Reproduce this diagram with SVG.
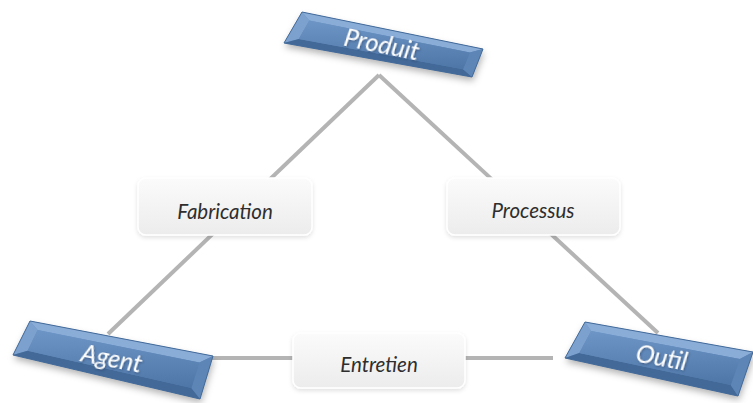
<svg xmlns="http://www.w3.org/2000/svg" width="753" height="403" viewBox="0 0 753 403">
  <defs>
    <linearGradient id="faceGrad" x1="0" y1="0" x2="0" y2="1">
      <stop offset="0" stop-color="#6d95c5"/>
      <stop offset="1" stop-color="#4e76a7"/>
    </linearGradient>
    <linearGradient id="labelGrad" x1="0" y1="0" x2="0" y2="1">
      <stop offset="0" stop-color="#fbfbfb"/>
      <stop offset="1" stop-color="#ececec"/>
    </linearGradient>
    <filter id="boxShadow" x="-20%" y="-40%" width="140%" height="190%">
      <feDropShadow dx="1" dy="4" stdDeviation="3.5" flood-color="#000" flood-opacity="0.3"/>
    </filter>
    <filter id="labelShadow" x="-10%" y="-20%" width="120%" height="150%">
      <feDropShadow dx="0" dy="2" stdDeviation="2" flood-color="#000" flood-opacity="0.12"/>
    </filter>
    <filter id="textShadow" x="-10%" y="-30%" width="120%" height="160%">
      <feDropShadow dx="1" dy="1" stdDeviation="1.2" flood-color="#1d3352" flood-opacity="0.5"/>
    </filter>
  </defs>
  <style>
    .link { stroke: #b4b4b4; stroke-width: 4; fill: none; }
    .face { fill: url(#faceGrad); }
    .bevTop { fill: #8aadd8; }
    .bevLeft { fill: #7ca1ce; }
    .bevBottom { fill: #426997; }
    .bevRight { fill: #5d86b7; }
    .edge { fill: none; stroke: #446b9a; stroke-width: 1; stroke-linejoin: round; }
    .title { font-family: "Lato", "Open Sans", sans-serif; font-style: italic; font-size: 25px; fill: #ffffff; text-anchor: middle; }
    .label { fill: url(#labelGrad); stroke: #ffffff; stroke-width: 1.5; }
    .labelText { font-family: "Lato", "Open Sans", sans-serif; font-style: italic; font-size: 20.5px; fill: #2e2e2e; text-anchor: middle; }
  </style>

  <!-- triangle of relations -->
  <g id="connectors">
    <line class="link" x1="379" y1="75" x2="108" y2="334"/>
    <line class="link" x1="379" y1="75" x2="658" y2="333"/>
    <line class="link" x1="212" y1="358" x2="553" y2="358"/>
  </g>

  <!-- bevelled node: Produit -->
  <g id="produit">
    <g filter="url(#boxShadow)">
      <polygon class="face" points="302,12 483,49 472,77 284,43"/>
    </g>
    <polygon class="bevTop" points="302,12 483,49 469.9,52.4 309.3,20.4"/>
    <polygon class="bevLeft" points="302,12 309.3,20.4 298.8,38.9 284,43"/>
    <polygon class="bevBottom" points="284,43 298.8,38.9 463,69.3 472,77"/>
    <polygon class="bevRight" points="483,49 472,77 463,69.3 469.9,52.4"/>
    <polygon class="face" points="309.3,20.4 469.9,52.4 463,69.3 298.8,38.9"/>
    <polygon class="edge" points="302,12 483,49 472,77 284,43"/>
    <text class="title" filter="url(#textShadow)" transform="translate(380,53) rotate(11.5)">Produit</text>
  </g>

  <!-- bevelled node: Agent -->
  <g id="agent">
    <g filter="url(#boxShadow)">
      <polygon class="face" points="30,321 213,356 200,399 13,355"/>
    </g>
    <polygon class="bevTop" points="30,321 213,356 199.4,362.4 37.6,330"/>
    <polygon class="bevLeft" points="30,321 37.6,330 27.6,350.7 13,355"/>
    <polygon class="bevBottom" points="13,355 27.6,350.7 191.4,387.9 200,399"/>
    <polygon class="bevRight" points="213,356 200,399 191.4,387.9 199.4,362.4"/>
    <polygon class="face" points="37.6,330 199.4,362.4 191.4,387.9 27.6,350.7"/>
    <polygon class="edge" points="30,321 213,356 200,399 13,355"/>
    <text class="title" filter="url(#textShadow)" transform="translate(110,367) rotate(11)">Agent</text>
  </g>

  <!-- bevelled node: Outil -->
  <g id="outil">
    <g filter="url(#boxShadow)">
      <polygon class="face" points="585,322 753,352 738,396 565,358"/>
    </g>
    <polygon class="bevTop" points="585,322 753,352 739.9,358.9 591.1,331.1"/>
    <polygon class="bevLeft" points="585,322 591.1,331.1 579.3,353 565,358"/>
    <polygon class="bevBottom" points="565,358 579.3,353 730.7,385 738,396"/>
    <polygon class="bevRight" points="753,352 738,396 730.7,385 739.9,358.9"/>
    <polygon class="face" points="591.1,331.1 739.9,358.9 730.7,385 579.3,353"/>
    <polygon class="edge" points="585,322 753,352 738,396 565,358"/>
    <text class="title" filter="url(#textShadow)" transform="translate(660,366) rotate(10.5)">Outil</text>
  </g>

  <!-- relation labels -->
  <g id="fabrication">
    <rect class="label" filter="url(#labelShadow)" x="138" y="178" width="174" height="57" rx="8"/>
    <text class="labelText" x="225" y="219">Fabrication</text>
  </g>
  <g id="processus">
    <rect class="label" filter="url(#labelShadow)" x="447" y="178" width="173" height="57" rx="8"/>
    <text class="labelText" x="533" y="218">Processus</text>
  </g>
  <g id="entretien">
    <rect class="label" filter="url(#labelShadow)" x="293" y="333" width="172" height="55" rx="8"/>
    <text class="labelText" x="379" y="372">Entretien</text>
  </g>
</svg>
